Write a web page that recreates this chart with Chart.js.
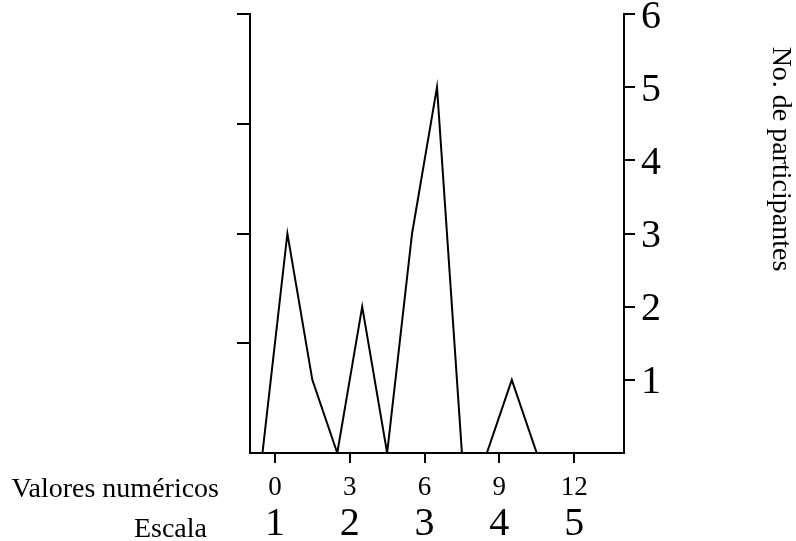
<!DOCTYPE html>
<html><head><meta charset="utf-8">
<script src="https://cdn.jsdelivr.net/npm/chart.js@4"></script>
<style>html,body{margin:0;padding:0;background:#fff}</style>
</head><body>
<canvas id="c" width="796" height="541"></canvas>
<script>
// ---- data ----
const xValues = [-0.5, 0.5, 1.5, 2.5, 3.5, 4.5, 5.5, 6.5, 7.5, 8.5, 9.5, 10.5, 11.5, 12.5, 13.5];
const participants = [0, 3, 1, 0, 2, 0, 3, 5, 0, 0, 1, 0, 0, 0, 0];
const numericTicks = [0, 3, 6, 9, 12];
const scaleLabels = ['1', '2', '3', '4', '5'];
const rightTicks = [1, 2, 3, 4, 5, 6];
const leftTicks = [1.5, 3, 4.5, 6];
const xTitle = 'Valores numéricos';
const x2Title = 'Escala';
const yTitle = 'No. de participantes';

const FONT = '"Liberation Serif", "Times New Roman", serif';

function fixed(size, key) {
  return function (scale) {
    scale[key] = size;
    scale.paddingTop = 0; scale.paddingBottom = 0;
    scale.paddingLeft = 0; scale.paddingRight = 0;
  };
}
function setTicks(values) {
  return function (scale) { scale.ticks = values.map(v => ({ value: v })); };
}

const textPlugin = {
  id: 'extraText',
  afterDraw(chart) {
    const ctx = chart.ctx;
    const xs = chart.scales.x, x2 = chart.scales.x2;
    ctx.save();
    ctx.fillStyle = '#000';
    ctx.font = '28px ' + FONT;
    ctx.textAlign = 'right';
    ctx.textBaseline = 'alphabetic';
    ctx.fillText(xTitle, 219, 497);
    ctx.fillText(x2Title, 207, 537);
    ctx.translate(780, 159);
    ctx.rotate(Math.PI / 2);
    ctx.textAlign = 'center';
    ctx.textBaseline = 'middle';
    ctx.fillText(yTitle, 0, 0);
    ctx.restore();
  }
};

new Chart(document.getElementById('c'), {
  type: 'line',
  data: {
    datasets: [{
      data: xValues.map((x, i) => ({ x: x, y: participants[i] })),
      borderColor: '#000',
      borderWidth: 2,
      pointRadius: 0,
      tension: 0,
      fill: false,
      yAxisID: 'y',
      xAxisID: 'x'
    }]
  },
  options: {
    responsive: false,
    animation: false,
    devicePixelRatio: 1,
    layout: { padding: { top: 14, left: 0, right: 0, bottom: 0 } },
    plugins: { legend: { display: false }, tooltip: { enabled: false } },
    scales: {
      x: {
        type: 'linear', position: 'bottom', min: -1, max: 14, weight: 0,
        afterBuildTicks: setTicks(numericTicks),
        afterFit: fixed(50, 'height'),
        grid: { drawOnChartArea: false, drawTicks: true, tickLength: 10, color: '#000', lineWidth: 2 },
        border: { display: true, color: '#000', width: 2 },
        ticks: { color: '#000', font: { family: FONT, size: 27, lineHeight: 1 }, padding: 11, maxRotation: 0, autoSkip: false }
      },
      x2: {
        type: 'linear', position: 'bottom', min: -1, max: 14, weight: 1,
        afterBuildTicks: setTicks(numericTicks),
        afterFit: fixed(38, 'height'),
        grid: { display: false, drawTicks: false },
        border: { display: false },
        ticks: {
          color: '#000', font: { family: FONT, size: 40, lineHeight: 1 }, padding: 1, maxRotation: 0, autoSkip: false,
          callback: (v) => scaleLabels[numericTicks.indexOf(v)]
        }
      },
      yl: {
        type: 'linear', position: 'left', min: 0, max: 6,
        afterBuildTicks: setTicks(leftTicks),
        afterFit: fixed(250, 'width'),
        grid: { drawOnChartArea: false, drawTicks: true, tickLength: 13, color: '#000', lineWidth: 2 },
        border: { display: true, color: '#000', width: 2 },
        ticks: { display: false }
      },
      y: {
        type: 'linear', position: 'right', min: 0, max: 6,
        afterBuildTicks: setTicks(rightTicks),
        afterFit: fixed(172, 'width'),
        grid: { drawOnChartArea: false, drawTicks: true, tickLength: 11, color: '#000', lineWidth: 2 },
        border: { display: true, color: '#000', width: 2 },
        ticks: { color: '#000', font: { family: FONT, size: 40, lineHeight: 1 }, padding: 6, labelOffset: 3 }
      }
    }
  },
  plugins: [textPlugin]
});
</script>
</body></html>
